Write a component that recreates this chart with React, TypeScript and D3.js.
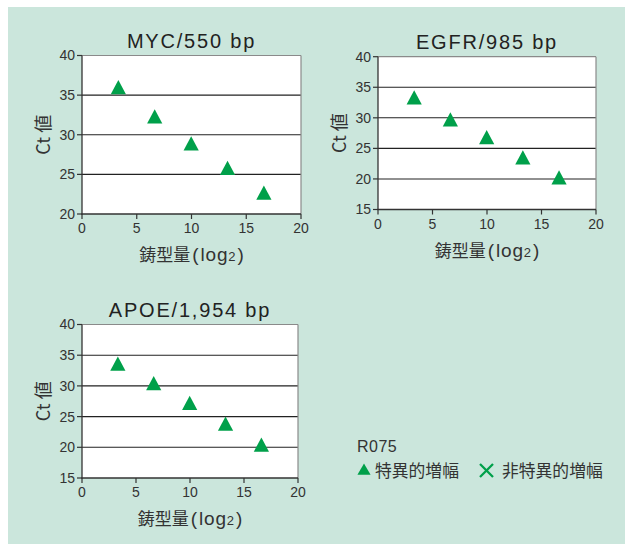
import React from "react";
import * as d3 from "d3";

const xValues = [3.32, 6.64, 9.97, 13.29, 16.61];
const mycCt = [35.9, 32.2, 28.8, 25.7, 22.6];
const egfrCt = [33.2, 29.6, 26.7, 23.4, 20.1];
const apoeCt = [33.5, 30.3, 27.1, 23.7, 20.3];
const xTicks = [0, 5, 10, 15, 20];
const mycTicks = [20, 25, 30, 35, 40];
const egfrTicks = [15, 20, 25, 30, 35, 40];
const apoeTicks = [15, 20, 25, 30, 35, 40];
const titles = ["MYC/550 bp", "EGFR/985 bp", "APOE/1,954 bp"];
const yLabel = "Ct 値";
const xLabelMain = "鋳型量";
const xLabelUnit = "log";
const legendTitle = "R075";
const legendItems = ["特異的増幅", "非特異的増幅"];

const FONT = "'Liberation Sans', 'Noto Sans CJK JP', Arial, sans-serif";
const JFONT = "'Noto Sans CJK JP', 'Liberation Sans', sans-serif";
const GREEN = "#00a04a";
const BG = "#cbe6dc";

type PanelProps = {
  left: number; right: number; top: number; bottom: number;
  yTicks: number[]; values: number[]; title: string;
};

function Panel({ left, right, top, bottom, yTicks, values, title }: PanelProps) {
  const x = d3.scaleLinear().domain([0, 20]).range([left, right]);
  const y = d3.scaleLinear().domain([yTicks[0], yTicks[yTicks.length - 1]]).range([bottom, top]);
  const tri = d3.symbol().type(d3.symbolTriangle).size(100)();
  const cx = (left + right) / 2;
  return (
    <g>
      <rect x={left} y={top} width={right - left} height={bottom - top} fill="#fff" />
      {yTicks.slice(1, -1).map((t) => (
        <line key={t} x1={left} x2={right} y1={y(t)} y2={y(t)} stroke="#222" strokeWidth={1.1} />
      ))}
      <line x1={left} x2={right} y1={top} y2={top} stroke="#8a8a8a" strokeWidth={1.2} />
      <line x1={right} x2={right} y1={top} y2={bottom} stroke="#8a8a8a" strokeWidth={1.2} />
      <line x1={left} x2={left} y1={top} y2={bottom + 0.5} stroke="#333" strokeWidth={1.3} />
      <line x1={left - 0.5} x2={right} y1={bottom} y2={bottom} stroke="#333" strokeWidth={1.3} />
      {yTicks.map((t) => (
        <g key={t}>
          <line x1={left - 5} x2={left} y1={y(t)} y2={y(t)} stroke="#333" strokeWidth={1.2} />
          <text x={left - 7} y={y(t)} dy="0.35em" textAnchor="end" fontSize={14} fill="#333" fontFamily={FONT}>{t}</text>
        </g>
      ))}
      {xTicks.map((t) => (
        <g key={t}>
          <line x1={x(t)} x2={x(t)} y1={bottom} y2={bottom + 5} stroke="#333" strokeWidth={1.2} />
          <text x={x(t)} y={bottom + 19} textAnchor="middle" fontSize={14} fill="#333" fontFamily={FONT}>{t}</text>
        </g>
      ))}
      {values.map((v, i) => (
        <path key={i} d={tri!} transform={`translate(${x(xValues[i])},${y(v) + 1.5}) scale(1,1.08)`} fill={GREEN} />
      ))}
      <text x={cx} y={top - 8} textAnchor="middle" fontSize={20} letterSpacing={1.8} fill="#222" fontFamily={FONT}>{title}</text>
      <text transform={`translate(${left - 32},${(top + bottom) / 2}) rotate(-90)`} textAnchor="middle" fontSize={18} fill="#333" fontFamily={JFONT}>{yLabel}</text>
      <text x={cx} y={bottom + 47} textAnchor="middle" fill="#333" fontFamily={JFONT} fontSize={17}>
        {xLabelMain}
        <tspan fontFamily={FONT} fontSize={19} dx={2}>(</tspan>
        <tspan fontFamily={FONT} fontSize={19} dx={2} letterSpacing={0.8}>{xLabelUnit}</tspan>
        <tspan fontFamily={FONT} fontSize={13}>2</tspan>
        <tspan fontFamily={FONT} fontSize={19} dx={2}>)</tspan>
      </text>
    </g>
  );
}

export default function App() {
  return (
    <svg width={625} height={544} style={{ position: "absolute", left: 0, top: 0 }}>
      <rect x={8} y={7} width={617} height={537} fill={BG} />
      <Panel left={82} right={301} top={55.5} bottom={214} yTicks={mycTicks} values={mycCt} title={titles[0]} />
      <Panel left={378} right={596} top={56.7} bottom={209.5} yTicks={egfrTicks} values={egfrCt} title={titles[1]} />
      <Panel left={82} right={298} top={324.5} bottom={478} yTicks={apoeTicks} values={apoeCt} title={titles[2]} />
      <text x={357} y={452} fontSize={16} letterSpacing={0.5} fill="#333" fontFamily={FONT}>{legendTitle}</text>
      <path d={d3.symbol().type(d3.symbolTriangle).size(75)()!} transform="translate(364,471)" fill={GREEN} />
      <text x={375} y={477} fontSize={16.8} fill="#333" fontFamily={JFONT}>{legendItems[0]}</text>
      <g stroke={GREEN} strokeWidth={2.3}>
        <line x1={480} x2={493} y1={464} y2={477} />
        <line x1={480} x2={493} y1={477} y2={464} />
      </g>
      <text x={502} y={477} fontSize={16.8} fill="#333" fontFamily={JFONT}>{legendItems[1]}</text>
    </svg>
  );
}
